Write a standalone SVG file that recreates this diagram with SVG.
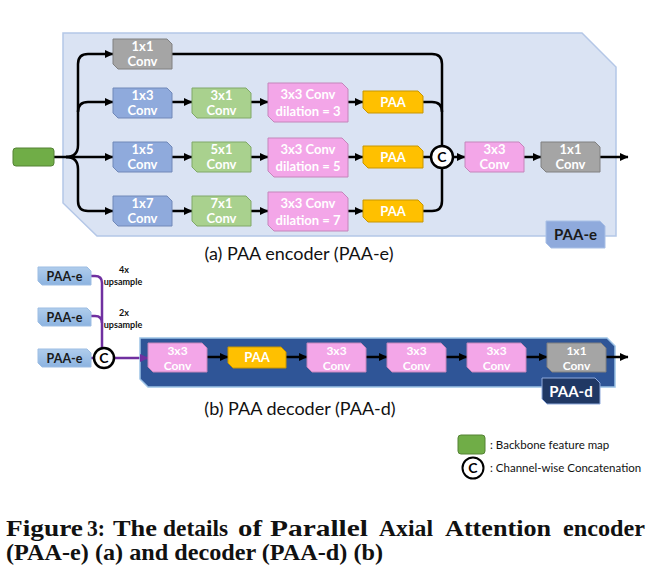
<svg xmlns="http://www.w3.org/2000/svg" width="661" height="584" viewBox="0 0 661 584">
<style>
.bt{font-family:Lato,"Open Sans","Liberation Sans",sans-serif;font-weight:bold;font-size:13px;fill:#fff;text-anchor:middle}
.bd{font-family:Lato,"Open Sans","Liberation Sans",sans-serif;font-weight:bold;font-size:12px;fill:#fff;text-anchor:middle}
.lb{font-family:Lato,"Open Sans","Liberation Sans",sans-serif;font-weight:bold;font-size:15px;text-anchor:middle}
.cap{font-family:Lato,"Open Sans","Liberation Sans",sans-serif;font-size:18px;fill:#111;text-anchor:middle}
.sm{font-family:Lato,"Open Sans","Liberation Sans",sans-serif;font-weight:bold;font-size:9px;fill:#111;text-anchor:middle}
.lg{font-family:Lato,"Open Sans","Liberation Sans",sans-serif;font-size:11.5px;fill:#111}
.fig{font-family:"Liberation Serif",serif;font-weight:bold;font-size:24px;fill:#111}
.gray{fill:#a5a5a5;stroke:#808080;stroke-width:1}
.blue{fill:#8faadc;stroke:#7088b8;stroke-width:1}
.green{fill:#a9d18e;stroke:#80a868;stroke-width:1}
.pink{fill:#f3a6e8;stroke:#c486bb;stroke-width:1}
.yel{fill:#ffc000;stroke:#c89600;stroke-width:1}
.ln{fill:none;stroke:#000;stroke-width:2.5}
.pl{fill:none;stroke:#7030a0;stroke-width:2.5}
.circ{fill:#fff;stroke:#000;stroke-width:2.5}
.ct{font-family:Lato,"Open Sans","Liberation Sans",sans-serif;font-weight:bold;font-size:14px;fill:#000;text-anchor:middle}
</style>
<defs>
<marker id="ah" markerUnits="userSpaceOnUse" markerWidth="9" markerHeight="9" refX="8" refY="4.5" orient="auto">
<path d="M0,0.5 L8.5,4.5 L0,8.5 z" fill="#000"/>
</marker>
<marker id="ahp" markerUnits="userSpaceOnUse" markerWidth="9" markerHeight="9" refX="8" refY="4.5" orient="auto">
<path d="M0,0.5 L8.5,4.5 L0,8.5 z" fill="#7030a0"/>
</marker>
<linearGradient id="pe" x1="0" y1="0" x2="0" y2="1">
<stop offset="0" stop-color="#b0cdec"/>
<stop offset="1" stop-color="#8cb3e0"/>
</linearGradient>
</defs>
<rect width="661" height="584" fill="#fff"/>

<g id="encoder-bg">
<polygon points="63,33 582,33 616,67 616,236 97,236 63,203" fill="#dae3f3" stroke="#b4c7e7" stroke-width="1.5"/>
</g>

<g id="connectors">
<path class="ln" d="M54,157 H113" marker-end="url(#ah)"/>
<path class="ln" d="M66,157 Q78,157 78,145 V64 Q78,54 88,54 H113" marker-end="url(#ah)"/>
<path class="ln" d="M78,112 Q78,102 88,102 H113" marker-end="url(#ah)"/>
<path class="ln" d="M66,157 Q78,157 78,169 V201 Q78,211 88,211 H113" marker-end="url(#ah)"/>
<path class="ln" d="M172,102 H192" marker-end="url(#ah)"/>
<path class="ln" d="M172,157 H192" marker-end="url(#ah)"/>
<path class="ln" d="M172,211 H192" marker-end="url(#ah)"/>
<path class="ln" d="M251,102 H268" marker-end="url(#ah)"/>
<path class="ln" d="M251,157 H268" marker-end="url(#ah)"/>
<path class="ln" d="M251,211 H268" marker-end="url(#ah)"/>
<path class="ln" d="M348,102 H363" marker-end="url(#ah)"/>
<path class="ln" d="M348,157 H363" marker-end="url(#ah)"/>
<path class="ln" d="M348,211 H363" marker-end="url(#ah)"/>
<path class="ln" d="M172,54 H432 Q442,54 442,64 V146"/>
<path class="ln" d="M423,102 H432 Q442,102 442,112"/>
<path class="ln" d="M423,211 H432 Q442,211 442,201 V168"/>
<path class="ln" d="M423,157 H431"/>
<path class="ln" d="M453,157 H465" marker-end="url(#ah)"/>
<path class="ln" d="M524,157 H541" marker-end="url(#ah)"/>
<path class="ln" d="M600,157 H628" marker-end="url(#ah)"/>
<path class="pl" d="M91,276 H95 Q102,276 102,283 V349"/>
<path class="pl" d="M91,316 H95 Q102,316 102,323"/>
<path class="pl" d="M91,358 H94"/>
<path class="pl" d="M114,358 H148" marker-end="url(#ahp)"/>
</g>

<g id="input">
<rect x="13" y="148" width="41" height="18" rx="3" fill="#70ad47" stroke="#548235" stroke-width="1"/>
</g>

<g id="e-1x1-top">
<polygon class="gray" points="113,39 167,39 172,44 172,69 118,69 113,64"/>
<text class="bt" x="142.5" y="51">1x1</text><text class="bt" x="142.5" y="66">Conv</text>
</g>
<g id="e-1x3">
<polygon class="blue" points="113,88 167,88 172,93 172,118 118,118 113,113"/>
<text class="bt" x="142.5" y="100">1x3</text><text class="bt" x="142.5" y="115">Conv</text>
</g>
<g id="e-1x5">
<polygon class="blue" points="113,142 167,142 172,147 172,172 118,172 113,167"/>
<text class="bt" x="142.5" y="154">1x5</text><text class="bt" x="142.5" y="169">Conv</text>
</g>
<g id="e-1x7">
<polygon class="blue" points="113,196 167,196 172,201 172,226 118,226 113,221"/>
<text class="bt" x="142.5" y="208">1x7</text><text class="bt" x="142.5" y="223">Conv</text>
</g>
<g id="e-3x1">
<polygon class="green" points="192,88 246,88 251,93 251,118 197,118 192,113"/>
<text class="bt" x="221.5" y="100">3x1</text><text class="bt" x="221.5" y="115">Conv</text>
</g>
<g id="e-5x1">
<polygon class="green" points="192,142 246,142 251,147 251,172 197,172 192,167"/>
<text class="bt" x="221.5" y="154">5x1</text><text class="bt" x="221.5" y="169">Conv</text>
</g>
<g id="e-7x1">
<polygon class="green" points="192,196 246,196 251,201 251,226 197,226 192,221"/>
<text class="bt" x="221.5" y="208">7x1</text><text class="bt" x="221.5" y="223">Conv</text>
</g>
<g id="e-dil3">
<polygon class="pink" points="268,83 342,83 348,89 348,122 274,122 268,116"/>
<text class="bt" x="308" y="99">3x3 Conv</text><text class="bt" x="308" y="116">dilation = 3</text>
</g>
<g id="e-dil5">
<polygon class="pink" points="268,138 342,138 348,144 348,177 274,177 268,171"/>
<text class="bt" x="308" y="154">3x3 Conv</text><text class="bt" x="308" y="171">dilation = 5</text>
</g>
<g id="e-dil7">
<polygon class="pink" points="268,192 342,192 348,198 348,231 274,231 268,225"/>
<text class="bt" x="308" y="208">3x3 Conv</text><text class="bt" x="308" y="225">dilation = 7</text>
</g>
<g id="e-paa1">
<polygon class="yel" points="363,91 418,91 423,96 423,113 368,113 363,108"/>
<text class="bt" x="393" y="107">PAA</text>
</g>
<g id="e-paa2">
<polygon class="yel" points="363,146 418,146 423,151 423,168 368,168 363,163"/>
<text class="bt" x="393" y="162">PAA</text>
</g>
<g id="e-paa3">
<polygon class="yel" points="363,200 418,200 423,205 423,222 368,222 363,217"/>
<text class="bt" x="393" y="216">PAA</text>
</g>
<g id="e-concat">
<circle class="circ" cx="442" cy="157" r="11"/>
<text class="ct" x="442" y="162">C</text>
</g>
<g id="e-3x3">
<polygon class="pink" points="465,142 519,142 524,147 524,172 470,172 465,167"/>
<text class="bt" x="494.5" y="154">3x3</text><text class="bt" x="494.5" y="169">Conv</text>
</g>
<g id="e-1x1-out">
<polygon class="gray" points="541,142 595,142 600,147 600,172 546,172 541,167"/>
<text class="bt" x="570.5" y="154">1x1</text><text class="bt" x="570.5" y="169">Conv</text>
</g>
<g id="label-paa-e">
<polygon points="546,221 600,221 605,226 605,248 551,248 546,243" fill="#8faadc" stroke="#a9c0e6" stroke-width="1"/>
<text class="lb" x="575.5" y="240" fill="#1a1a1a">PAA-e</text>
</g>
<text class="cap" x="299" y="260">(a) PAA encoder (PAA-e)</text>

<g id="d-in1">
<polygon points="38,267 87,267 91,271 91,285 42,285 38,281" fill="url(#pe)" stroke="#9dbde3" stroke-width="1"/>
<text class="lb" style="font-size:12.5px" x="64.5" y="281" fill="#1a1a1a">PAA-e</text>
</g>
<g id="d-in2">
<polygon points="38,308 87,308 91,312 91,326 42,326 38,322" fill="url(#pe)" stroke="#9dbde3" stroke-width="1"/>
<text class="lb" style="font-size:12.5px" x="64.5" y="322" fill="#1a1a1a">PAA-e</text>
</g>
<g id="d-in3">
<polygon points="38,349 87,349 91,353 91,367 42,367 38,363" fill="url(#pe)" stroke="#9dbde3" stroke-width="1"/>
<text class="lb" style="font-size:12.5px" x="64.5" y="363" fill="#1a1a1a">PAA-e</text>
</g>
<text class="sm" x="124" y="273">4x</text>
<text class="sm" x="123" y="285">upsample</text>
<text class="sm" x="124" y="316">2x</text>
<text class="sm" x="123" y="328">upsample</text>
<g id="d-concat">
<circle class="circ" cx="104" cy="358" r="10"/>
<text class="ct" x="104" y="363">C</text>
</g>

<g id="decoder-bg">
<polygon points="140,338 607,338 615,346 615,387 148,387 140,379" fill="#2f5597" stroke="#9dc3e6" stroke-width="1.5"/>
</g>
<g id="d-connectors">
<path class="pl" d="M140,358 H148" marker-end="url(#ahp)"/>
<path class="ln" d="M207,357 H228" marker-end="url(#ah)"/>
<path class="ln" d="M286,357 H307" marker-end="url(#ah)"/>
<path class="ln" d="M366,357 H387" marker-end="url(#ah)"/>
<path class="ln" d="M446,357 H467" marker-end="url(#ah)"/>
<path class="ln" d="M526,357 H547" marker-end="url(#ah)"/>
<path class="ln" d="M606,357 H628" marker-end="url(#ah)"/>
</g>
<g id="d-3x3-1">
<polygon class="pink" points="148,343 202,343 207,348 207,372 153,372 148,367"/>
<text class="bd" x="177.5" y="354.5">3x3</text><text class="bd" x="177.5" y="369.5">Conv</text>
</g>
<g id="d-paa">
<polygon class="yel" points="228,347 281,347 286,352 286,368 233,368 228,363"/>
<text class="bt" x="257" y="362">PAA</text>
</g>
<g id="d-3x3-2">
<polygon class="pink" points="307,343 361,343 366,348 366,372 312,372 307,367"/>
<text class="bd" x="336.5" y="354.5">3x3</text><text class="bd" x="336.5" y="369.5">Conv</text>
</g>
<g id="d-3x3-3">
<polygon class="pink" points="387,343 441,343 446,348 446,372 392,372 387,367"/>
<text class="bd" x="416.5" y="354.5">3x3</text><text class="bd" x="416.5" y="369.5">Conv</text>
</g>
<g id="d-3x3-4">
<polygon class="pink" points="467,343 521,343 526,348 526,372 472,372 467,367"/>
<text class="bd" x="496.5" y="354.5">3x3</text><text class="bd" x="496.5" y="369.5">Conv</text>
</g>
<g id="d-1x1">
<polygon class="gray" points="547,343 601,343 606,348 606,372 552,372 547,367"/>
<text class="bd" x="576.5" y="354.5">1x1</text><text class="bd" x="576.5" y="369.5">Conv</text>
</g>
<g id="label-paa-d">
<polygon points="542,378 595,378 600,383 600,404 547,404 542,399" fill="#203864" stroke="#8faadc" stroke-width="1"/>
<text class="lb" x="571" y="397" fill="#fff">PAA-d</text>
</g>
<text class="cap" x="300" y="415">(b) PAA decoder (PAA-d)</text>

<g id="legend">
<rect x="458" y="435" width="27" height="19" rx="3" fill="#70ad47" stroke="#548235" stroke-width="1"/>
<text class="lg" x="490" y="449">: Backbone feature map</text>
<circle cx="473" cy="468" r="10.5" fill="#fff" stroke="#000" stroke-width="2"/>
<text class="ct" x="473" y="473">C</text>
<text class="lg" x="490" y="472">: Channel-wise Concatenation</text>
</g>

<g id="figure-caption">
<text class="fig" x="6" y="536" textLength="77" lengthAdjust="spacingAndGlyphs">Figure</text>
<text class="fig" x="87" y="536" textLength="18" lengthAdjust="spacingAndGlyphs">3:</text>
<text class="fig" x="113" y="536" textLength="44" lengthAdjust="spacingAndGlyphs">The</text>
<text class="fig" x="163" y="536" textLength="65" lengthAdjust="spacingAndGlyphs">details</text>
<text class="fig" x="238" y="536" textLength="24" lengthAdjust="spacingAndGlyphs">of</text>
<text class="fig" x="270" y="536" textLength="98" lengthAdjust="spacingAndGlyphs">Parallel</text>
<text class="fig" x="379" y="536" textLength="54" lengthAdjust="spacingAndGlyphs">Axial</text>
<text class="fig" x="445" y="536" textLength="106" lengthAdjust="spacingAndGlyphs">Attention</text>
<text class="fig" x="563" y="536" textLength="82" lengthAdjust="spacingAndGlyphs">encoder</text>
<text class="fig" x="6" y="560" textLength="377" lengthAdjust="spacingAndGlyphs">(PAA-e) (a) and decoder (PAA-d) (b)</text>
</g>
</svg>
